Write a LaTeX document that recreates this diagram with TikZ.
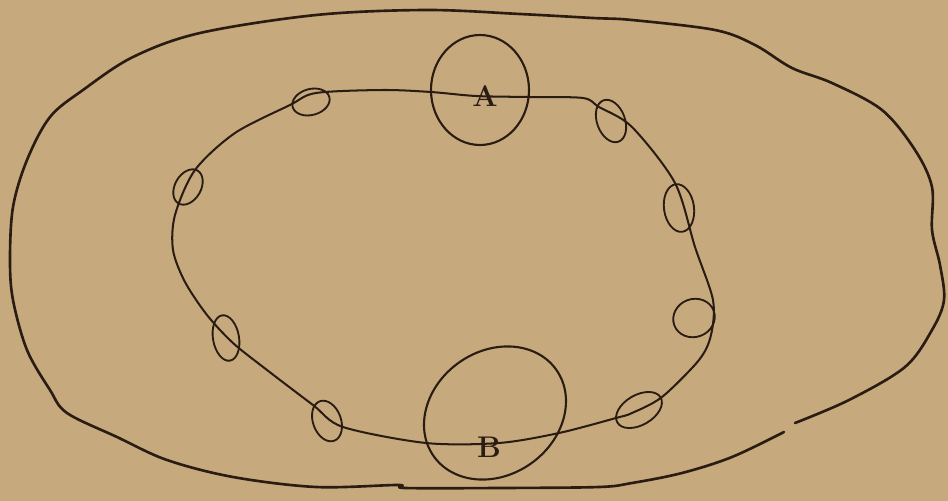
\documentclass[tikz,border=0pt]{standalone}
\usetikzlibrary{calc}
\definecolor{paper}{RGB}{198,170,126}
\definecolor{ink}{RGB}{42,28,18}
\tikzset{
  outerline/.style={draw=ink, line width=1.5pt, line cap=round, line join=round},
  innerline/.style={draw=ink, line width=1.15pt, line cap=round, line join=round},
  smallring/.style={draw=ink, line width=1.05pt},
  bigring/.style={draw=ink, line width=1.2pt},
  lbl/.style={text=ink, font=\fontsize{17}{17}\selectfont\bfseries, inner sep=0pt}
}
\begin{document}
\begin{tikzpicture}[x=0.02cm, y=-0.02cm]
\fill[paper] (0,0) rectangle (948,501);
\useasboundingbox (0,0) rectangle (948,501);
% outer boundary (with a small break at lower right)
\draw[outerline] plot[smooth, tension=0.55] coordinates {
 (784,432) (732,457) (682,473) (632,483) (599,487) (500,488) (405,488) (398,485)
 (316,487) (233,477) (167,460) (117,437) (67,413) (50,390) (27,350) (13,300)
 (10,260) (13,207) (27,160) (50,117) (83,90) (133,57) (200,33) (316,15)
 (426,10) (520,14) (593,18) (632,20) (715,30) (755,45) (792,68) (832,83)
 (882,110) (915,150) (932,187) (932,230) (940,265) (944,300) (932,330)
 (905,367) (849,400) (795,423)};
% inner ring
\draw[innerline] plot[smooth cycle, tension=0.5] coordinates {
 (290,105) (316,93) (383,90) (431,92) (476,96) (529,97) (583,98) (599,107)
 (632,127) (675,183) (695,247) (713,300) (711,335) (699,360) (662,397)
 (632,413) (616,418) (559,433) (499,443) (426,443) (343,427) (313,405)
 (267,370) (233,343) (207,315) (185,282) (173,250) (175,215) (195,170) (235,133)};
% small rings along inner ring
\draw[smallring, rotate around={15:(311,102)}] (311,102) ellipse [x radius=19, y radius=13];
\draw[smallring, rotate around={60:(188,187)}] (188,187) ellipse [x radius=19, y radius=13];
\draw[smallring, rotate around={100:(226,338)}] (226,338) ellipse [x radius=23, y radius=13];
\draw[smallring, rotate around={110:(327,421)}] (327,421) ellipse [x radius=21, y radius=14];
\draw[smallring, rotate around={30:(639,410)}] (639,410) ellipse [x radius=25, y radius=15];
\draw[smallring, rotate around={20:(694,318)}] (694,318) ellipse [x radius=21, y radius=19];
\draw[smallring, rotate around={98:(679,208)}] (679,208) ellipse [x radius=24, y radius=15];
\draw[smallring, rotate around={110:(611,121)}] (611,121) ellipse [x radius=22, y radius=14];
% ring A
\draw[bigring] (480,90) ellipse [x radius=49, y radius=55];
% ring B (egg shaped)
\draw[bigring, rotate around={35:(495,413)}] (495,413) ellipse [x radius=75, y radius=62];
\node[lbl] (A) at (485,96) {A};
\node[lbl] (B) at (489,447) {B};
\end{tikzpicture}
\end{document}
